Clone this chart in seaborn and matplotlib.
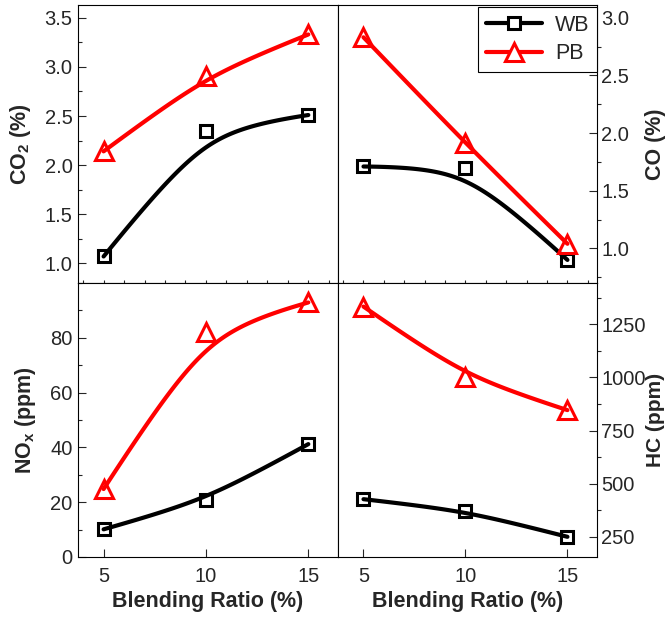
import numpy as np
import pandas as pd
import matplotlib
matplotlib.use("Agg")
import matplotlib.pyplot as plt
import seaborn as sns
from matplotlib.ticker import MultipleLocator, FixedLocator
from matplotlib.lines import Line2D

# ---------------- data ----------------
ratio = [5, 10, 15]
series = ["WB", "PB"]
co2_wb = [1.07, 2.35, 2.51]
co2_pb = [2.14, 2.91, 3.33]
co_wb = [1.71, 1.70, 0.90]
co_pb = [2.83, 1.91, 1.04]
nox_wb = [10.1, 20.8, 41.2]
nox_pb = [24.8, 82.2, 92.9]
hc_wb = [427, 372, 250]
hc_pb = [1333, 1003, 846]

colors = {"WB": "black", "PB": "#FF0000"}
markers = {"WB": "s", "PB": "^"}
msize = {"WB": 8.5, "PB": 13}

sns.set_style("ticks")
plt.rcParams["font.family"] = ["Liberation Sans", "DejaVu Sans"]
plt.rcParams["mathtext.fontset"] = "custom"
plt.rcParams["mathtext.rm"] = "Liberation Sans"
plt.rcParams["mathtext.bf"] = "Liberation Sans:bold"
plt.rcParams["axes.edgecolor"] = "black"
plt.rcParams["axes.linewidth"] = 0.8


def smooth(x, y, w=2.3, n=120):
    t = np.linspace(0, 1, n)
    b0 = (1 - t) ** 2
    b1 = 2 * t * (1 - t) * w
    b2 = t ** 2
    d = b0 + b1 + b2
    xs = (b0 * x[0] + b1 * x[1] + b2 * x[2]) / d
    ys = (b0 * y[0] + b1 * y[1] + b2 * y[2]) / d
    return xs, ys


W, H = 669, 617
fig = plt.figure(figsize=(W / 100, H / 100), dpi=100)
xl, xr, xm = 78, 597, 338
yt, ym, yb = 5, 283, 557
ax_tl = fig.add_axes([xl / W, 1 - ym / H, (xm - xl) / W, (ym - yt) / H])
ax_tr = fig.add_axes([xm / W, 1 - ym / H, (xr - xm) / W, (ym - yt) / H])
ax_bl = fig.add_axes([xl / W, 1 - yb / H, (xm - xl) / W, (yb - ym) / H])
ax_br = fig.add_axes([xm / W, 1 - yb / H, (xr - xm) / W, (yb - ym) / H])

panels = [
    (ax_tl, {"WB": co2_wb, "PB": co2_pb}, (0.8, 3.63), 0.5, 0.25, None,
     r"CO$_\mathbf{2}$ (%)", "left", -0.173, 15.5),
    (ax_tr, {"WB": co_wb, "PB": co_pb}, (0.7, 3.11), 0.5, 0.25, None,
     "CO (%)", "right", 1.185, 15.5),
    (ax_bl, {"WB": nox_wb, "PB": nox_pb}, (0, 100), 20, 10, [0, 20, 40, 60, 80],
     r"NO$_\mathbf{x}$ (ppm)", "left", -0.154, 15.5),
    (ax_br, {"WB": hc_wb, "PB": hc_pb}, (155, 1444), 250, 125, None,
     "HC (ppm)", "right", 1.188, 15),
]

for ax, vals, ylim, major, minor, fixed, ylabel, side, lx, lfs in panels:
    rows = []
    for s in series:
        xs, ys = smooth(ratio, vals[s])
        rows.append(pd.DataFrame({"x": xs, "y": ys, "series": s}))
    curve = pd.concat(rows, ignore_index=True)
    sns.lineplot(data=curve, x="x", y="y", hue="series", palette=colors,
                 sort=False, estimator=None, lw=3, legend=False, ax=ax)
    for s in series:
        sns.lineplot(x=ratio, y=vals[s], marker=markers[s], linestyle="",
                     markersize=msize[s], mfc="none", mec=colors[s], mew=2.2,
                     color=colors[s], ax=ax)
    ax.set_xlim(3.75, 16.45)
    ax.set_ylim(*ylim)
    if fixed is not None:
        ax.yaxis.set_major_locator(FixedLocator(fixed))
    else:
        ax.yaxis.set_major_locator(MultipleLocator(major))
    ax.yaxis.set_minor_locator(MultipleLocator(minor))
    if side == "right":
        ax.yaxis.tick_right()
        ax.yaxis.set_label_position("right")
        ax.tick_params(axis="y", which="minor", direction="out", length=3,
                       width=0.8, left=False, right=True)
        pad = 3
    else:
        ax.tick_params(axis="y", which="minor", direction="in", length=3,
                       width=0.8)
        pad = 4
    ax.tick_params(axis="y", which="major", direction="in", length=6,
                   width=0.8, labelsize=14.5, pad=pad)
    ax.set_ylabel(ylabel, fontsize=lfs, fontweight="bold")
    ax.yaxis.set_label_coords(lx, 0.5)
    for sp in ax.spines.values():
        sp.set_visible(True)
        sp.set_color("black")
        sp.set_linewidth(0.8)

for ax in (ax_tl, ax_tr):
    ax.set_xticks(list(range(4, 17)))
    ax.tick_params(axis="x", which="major", direction="inout", length=4,
                   width=0.8, labelbottom=False)
    ax.set_xlabel("")

for ax in (ax_bl, ax_br):
    ax.set_xticks(ratio)
    ax.tick_params(axis="x", which="major", direction="in", length=6,
                   width=0.8, labelsize=14.5, pad=7)
    ax.set_xlabel("Blending Ratio (%)", fontsize=15.5, fontweight="bold",
                  labelpad=4)

handles = [Line2D([0], [0], color=colors[s], lw=3, marker=markers[s],
                  markersize=msize[s], mfc="white", mec=colors[s], mew=2.2)
           for s in series]
leg = ax_tr.legend(handles, series, loc="upper right",
                   bbox_to_anchor=(1.0, 1 - 2 / (ym - yt)), borderaxespad=0,
                   fontsize=15.5, frameon=True, fancybox=False, framealpha=1,
                   edgecolor="black", borderpad=0.36, labelspacing=0.35,
                   handlelength=2.6, handletextpad=0.6)
leg.get_frame().set_linewidth(0.8)

fig.savefig("out.png", dpi=100)
